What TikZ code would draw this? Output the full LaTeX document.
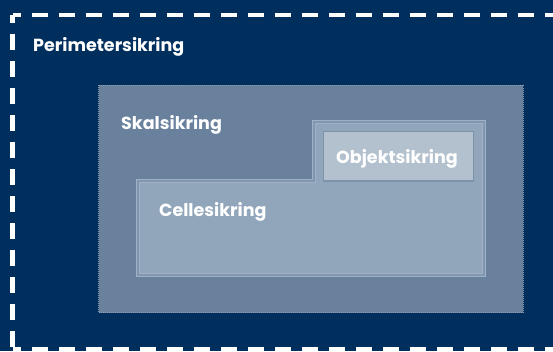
\documentclass[tikz,border=0pt]{standalone}
\usepackage{fontspec}
\setmainfont{Poppins}
\begin{document}
\begin{tikzpicture}[x=1pt,y=-1pt,
  lbl/.style={text=white,font=\bfseries\fontsize{17.5}{20}\selectfont,inner sep=0pt,anchor=base west},
  perimh/.style={draw=white,line width=4.5pt,dash pattern=on 16pt off 11pt,dash phase=7.5pt},
  perimv/.style={draw=white,line width=4.5pt,dash pattern=on 16pt off 11pt,dash phase=8pt},
  skal/.style={fill=skalfill,draw=skaldot,line width=1pt,dash pattern=on 1pt off 1pt},
  cellelight/.style={draw=cellinner,line width=1pt},
  cellemid/.style={draw=cellborder,line width=2pt},
  objekt/.style={fill=objfill,draw=objborder,line width=1.2pt}]
\definecolor{navy}{HTML}{002F5E}
\definecolor{skalfill}{HTML}{6A819E}
\definecolor{skaldot}{HTML}{8A9DB5}
\definecolor{cellfill}{HTML}{91A6BB}
\definecolor{cellborder}{HTML}{8197AF}
\definecolor{cellinner}{HTML}{9FB1C4}
\definecolor{objfill}{HTML}{B3C1CF}
\definecolor{objborder}{HTML}{7B92AB}
\useasboundingbox (0,0) rectangle (553,351);
\clip (0,0) rectangle (553,351);
\fill[navy] (0,0) rectangle (553,351);
\draw[perimh] (12.5,15) -- (560,15);
\draw[perimv] (12.5,15) -- (12.5,360);
\draw[perimh] (12.5,349) -- (560,349);
\node[lbl] (perimeter) at (33,51) {Perimetersikring};
% Skalsikring
\draw[skal] (98.5,85) rectangle (523,312.5);
\node[lbl] (skal) at (121,129) {Skalsikring};
% Cellesikring
\fill[cellfill] (136.5,179.5) -- (312.5,179.5) -- (312.5,120.5) -- (485.5,120.5) -- (485.5,276.5) -- (136.5,276.5) -- cycle;
\draw[cellemid] (138,181) -- (314,181) -- (314,122) -- (484,122) -- (484,275) -- (138,275) -- cycle;
\draw[cellelight] (136.5,179.5) -- (312.5,179.5) -- (312.5,120.5) -- (485.5,120.5) -- (485.5,276.5) -- (136.5,276.5) -- cycle;
\draw[cellelight] (139.5,182.5) -- (315.5,182.5) -- (315.5,123.5) -- (482.5,123.5) -- (482.5,273.5) -- (139.5,273.5) -- cycle;
\node[lbl] (celle) at (159,216) {Cellesikring};
% Objektsikring
\draw[objekt] (323.5,131.5) rectangle (473.5,181);
\node[lbl] (objekt) at (336,163) {Objektsikring};
\end{tikzpicture}
\end{document}
